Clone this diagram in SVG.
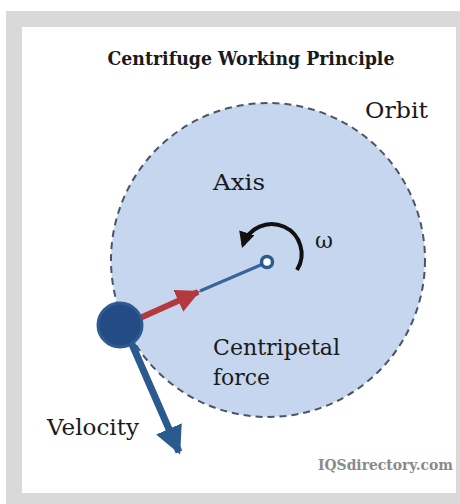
<svg xmlns="http://www.w3.org/2000/svg" width="460" height="504" viewBox="0 0 460 504">
<style>
.lbl{font-family:"DejaVu Serif","Liberation Serif",serif;fill:#1a1a1a;font-size:22px}
.title{font-family:"DejaVu Serif","Liberation Serif",serif;font-weight:bold;font-size:19px;fill:#1a1a1a}
.wm{font-family:"DejaVu Serif","Liberation Serif",serif;font-weight:bold;font-size:14px;fill:#8a8a8a}
</style>
<defs>
<marker id="redHead" viewBox="0 0 10 10" refX="9" refY="5" markerWidth="4" markerHeight="4" orient="auto" markerUnits="strokeWidth"><path d="M0,0 L10,5 L0,10 Z" fill="#b23a3e"/></marker>
<marker id="blueHead" viewBox="0 0 10 10" refX="9" refY="5" markerWidth="4" markerHeight="4" orient="auto" markerUnits="strokeWidth"><path d="M0,0 L10,5 L0,10 Z" fill="#2b5a8f"/></marker>
<marker id="blackHead" viewBox="0 0 10 10" refX="8" refY="5" markerWidth="4" markerHeight="4" orient="auto" markerUnits="strokeWidth"><path d="M0,0 L10,5 L0,10 Z" fill="#111"/></marker>
</defs>
<rect x="0" y="0" width="460" height="504" fill="#ffffff"/>
<rect x="6" y="11" width="460" height="500" fill="#d9d9d9"/>
<rect x="22" y="27" width="434" height="466" fill="#ffffff"/>
<text class="title" x="251" y="65" text-anchor="middle" textLength="287" lengthAdjust="spacingAndGlyphs">Centrifuge Working Principle</text>
<g id="orbit">
<circle cx="268" cy="260" r="157" fill="#c5d6ee" stroke="#4a5566" stroke-width="2" stroke-dasharray="7 5"/>
<text class="lbl" x="365" y="118" font-size="23" textLength="63" lengthAdjust="spacingAndGlyphs">Orbit</text>
</g>
<g id="axis">
<text class="lbl" x="213" y="190" textLength="52" lengthAdjust="spacingAndGlyphs">Axis</text>
</g>
<g id="connectors">
<line x1="200" y1="291" x2="263" y2="264" stroke="#3a6398" stroke-width="3"/>
<line x1="140" y1="318" x2="198" y2="292" stroke="#b23a3e" stroke-width="6" marker-end="url(#redHead)"/>
<line x1="131" y1="342" x2="179" y2="452" stroke="#2b5a8f" stroke-width="7" marker-end="url(#blueHead)"/>
<path d="M297,270 A30,30 0 1 0 243,245" fill="none" stroke="#111" stroke-width="4" marker-end="url(#blackHead)"/>
</g>
<g id="pivot">
<circle cx="267" cy="262" r="5.5" fill="#ffffff" stroke="#2b5a8f" stroke-width="3.5"/>
<text class="lbl" x="315" y="248" font-size="22">ω</text>
</g>
<g id="mass">
<circle cx="120" cy="325" r="22" fill="#234c84" stroke="#2f5a93" stroke-width="3"/>
</g>
<g id="centripetal">
<text class="lbl" x="213" y="355" textLength="127" lengthAdjust="spacingAndGlyphs">Centripetal</text>
<text class="lbl" x="213" y="385" textLength="57" lengthAdjust="spacingAndGlyphs">force</text>
</g>
<g id="velocity">
<text class="lbl" x="47" y="435" textLength="92" lengthAdjust="spacingAndGlyphs">Velocity</text>
</g>
<text class="wm" x="453" y="470" text-anchor="end" textLength="135" lengthAdjust="spacingAndGlyphs">IQSdirectory.com</text>
</svg>
